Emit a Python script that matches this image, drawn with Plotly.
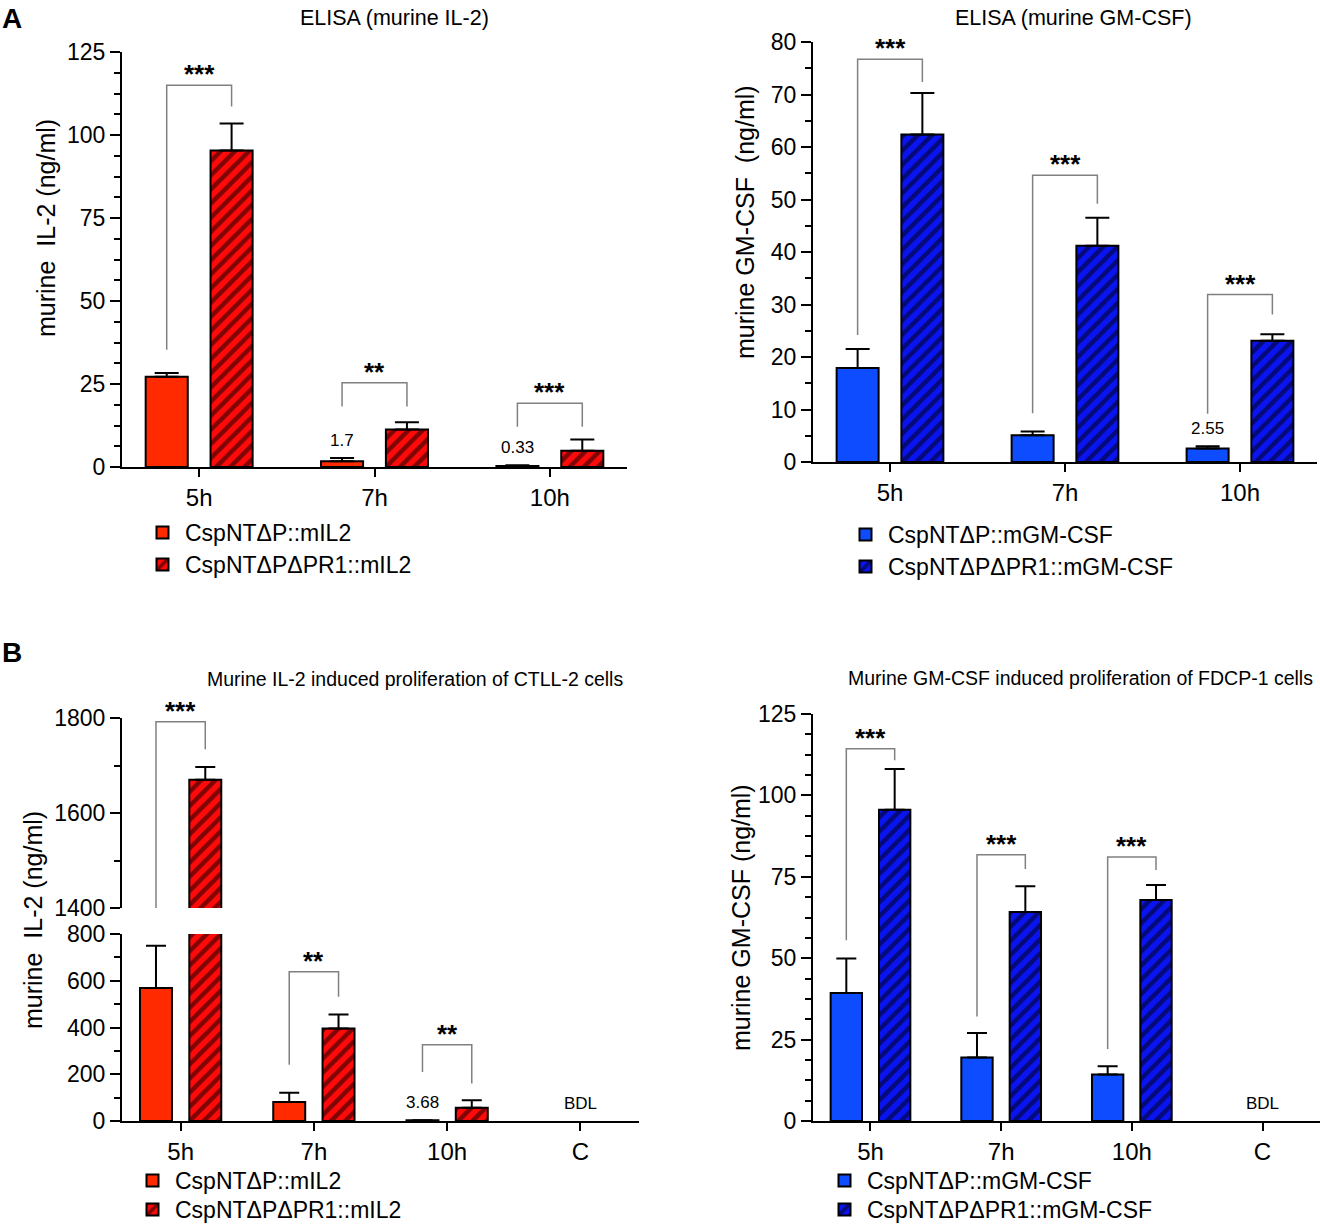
import plotly.graph_objects as go

FONT = "Liberation Sans, Arial, sans-serif"

times_a = ["5h", "7h", "10h"]
times_b = ["5h", "7h", "10h", "C"]

# A, ELISA murine IL-2 (ng/ml)
il2_elisa_p = [27.2, 1.7, 0.33]
il2_elisa_p_err = [1.1, 1.0, 0.2]
il2_elisa_pr1 = [95.3, 11.3, 4.9]
il2_elisa_pr1_err = [8.2, 2.2, 3.4]
il2_elisa_stars = ["***", "**", "***"]
il2_elisa_labels = ["", "1.7", "0.33"]
il2_elisa_br_top = [115.0, 25.4, 19.2]
il2_elisa_br_left = [35.3, 18.2, 12.1]
il2_elisa_br_right = [108.6, 18.2, 12.1]

# A, ELISA murine GM-CSF (ng/ml)
gm_elisa_p = [17.9, 5.1, 2.55]
gm_elisa_p_err = [3.6, 0.7, 0.45]
gm_elisa_pr1 = [62.4, 41.2, 23.1]
gm_elisa_pr1_err = [7.9, 5.3, 1.25]
gm_elisa_stars = ["***", "***", "***"]
gm_elisa_labels = ["", "", "2.55"]
gm_elisa_br_top = [76.7, 54.6, 31.9]
gm_elisa_br_left = [24.2, 9.3, 9.2]
gm_elisa_br_right = [72.4, 49.2, 28.1]

# B, IL-2 induced proliferation of CTLL-2 cells
il2_prolif_p = [569, 81, 3.68, None]
il2_prolif_p_err = [181, 40, 0, None]
il2_prolif_pr1 = [1670, 396, 57, None]
il2_prolif_pr1_err = [27, 60, 32, None]
il2_prolif_stars = ["***", "**", "**"]
il2_prolif_labels = ["", "", "3.68", "BDL"]
il2_prolif_br_top = [1792, 638, 326]
il2_prolif_br_left = [1400, 241, 210]
il2_prolif_br_right = [1734, 532, 160]

# B, GM-CSF induced proliferation of FDCP-1 cells
gm_prolif_p = [39.3, 19.5, 14.3, None]
gm_prolif_p_err = [10.6, 7.5, 2.5, None]
gm_prolif_pr1 = [95.6, 64.2, 67.9, None]
gm_prolif_pr1_err = [12.5, 7.9, 4.6, None]
gm_prolif_stars = ["***", "***", "***"]
gm_prolif_labels = ["", "", "", "BDL"]
gm_prolif_br_top = [114.3, 81.8, 81.1]
gm_prolif_br_left = [55.5, 32.1, 22.1]
gm_prolif_br_right = [110.8, 77.4, 77.1]

names_il2 = ["CspNTΔP::mIL2", "CspNTΔPΔPR1::mIL2"]
names_gm = ["CspNTΔP::mGM-CSF", "CspNTΔPΔPR1::mGM-CSF"]
reds = ["#FF2A00", "#FF0A0A"]
blues = ["#0D4DFF", "#0A14F0"]

W, H = 1320, 1228
OFF, BW = 0.185, 0.24
EDGE = dict(color="black", width=2)

fig = go.Figure()


def dx(a, b):
    return [a / W, b / W]


def py(y):
    return 1 - y / H


def dy(top, bottom):
    return [py(bottom), py(top)]


def add_bars(cats, a, a_err, b, b_err, names, colors, xa, ya, legends, show=True, cap=12):
    pos = list(range(len(cats)))
    err_a = dict(type="data", symmetric=False, array=a_err, arrayminus=[0] * len(a),
                 color="black", thickness=2, width=cap)
    err_b = dict(type="data", symmetric=False, array=b_err, arrayminus=[0] * len(b),
                 color="black", thickness=2, width=cap)
    fig.add_trace(go.Bar(
        x=[p - OFF for p in pos], y=a, width=BW, name=names[0],
        marker=dict(color=colors[0], line=EDGE), error_y=err_a,
        xaxis=xa, yaxis=ya, legend=legends[0], showlegend=show))
    fig.add_trace(go.Bar(
        x=[p + OFF for p in pos], y=b, width=BW, name=names[1],
        marker=dict(color=colors[1], line=EDGE,
                    pattern=dict(shape="/", fgcolor="black", bgcolor=colors[1],
                                 size=10, solidity=0.45)),
        error_y=err_b, xaxis=xa, yaxis=ya, legend=legends[1], showlegend=show))


def add_brackets(tops, lefts, rights, stars, xa, ya, ya_up=None, split=None):
    for i, (t, l, r, s) in enumerate(zip(tops, lefts, rights, stars)):
        yref = ya_up if (split is not None and t > split) else ya
        x0, x1 = i - OFF, i + OFF
        fig.add_shape(type="path", path=f"M{x0},{l} L{x0},{t} L{x1},{t} L{x1},{r}",
                      xref=xa, yref=yref, line=dict(color="#808080", width=1.5))
        fig.add_annotation(x=i, y=t, xref=xa, yref=yref, text=s, showarrow=False,
                           yanchor="bottom", yshift=-6,
                           font=dict(size=26, family=FONT, color="black", weight="bold"))


def add_labels(labels, vals, errs, xa, ya):
    for i, (lab, v, e) in enumerate(zip(labels, vals, errs)):
        if not lab:
            continue
        if v is None:
            x, y = i, 0
        else:
            x, y = i - OFF, v + e
        fig.add_annotation(x=x, y=y, xref=xa, yref=ya, text=lab, showarrow=False,
                           yanchor="bottom", yshift=6,
                           font=dict(size=17, family=FONT, color="black"))


# panel A left
add_bars(times_a, il2_elisa_p, il2_elisa_p_err, il2_elisa_pr1, il2_elisa_pr1_err,
         names_il2, reds, "x", "y", ("legend", "legend2"))
add_brackets(il2_elisa_br_top, il2_elisa_br_left, il2_elisa_br_right, il2_elisa_stars, "x", "y")
add_labels(il2_elisa_labels, il2_elisa_p, il2_elisa_p_err, "x", "y")

# panel A right
add_bars(times_a, gm_elisa_p, gm_elisa_p_err, gm_elisa_pr1, gm_elisa_pr1_err,
         names_gm, blues, "x2", "y2", ("legend3", "legend4"))
add_brackets(gm_elisa_br_top, gm_elisa_br_left, gm_elisa_br_right, gm_elisa_stars, "x2", "y2")
add_labels(gm_elisa_labels, gm_elisa_p, gm_elisa_p_err, "x2", "y2")

# panel B left (broken axis: lower y3, upper y4)
add_bars(times_b, il2_prolif_p, il2_prolif_p_err, il2_prolif_pr1, il2_prolif_pr1_err,
         names_il2, reds, "x3", "y3", ("legend5", "legend6"), cap=10)
add_bars(times_b, il2_prolif_p, il2_prolif_p_err, il2_prolif_pr1, il2_prolif_pr1_err,
         names_il2, reds, "x3", "y4", ("legend5", "legend6"), show=False, cap=10)
add_brackets(il2_prolif_br_top, il2_prolif_br_left, il2_prolif_br_right, il2_prolif_stars,
             "x3", "y3", ya_up="y4", split=800)
add_labels(il2_prolif_labels, il2_prolif_p, il2_prolif_p_err, "x3", "y3")

# panel B right
add_bars(times_b, gm_prolif_p, gm_prolif_p_err, gm_prolif_pr1, gm_prolif_pr1_err,
         names_gm, blues, "x4", "y5", ("legend7", "legend8"), cap=10)
add_brackets(gm_prolif_br_top, gm_prolif_br_left, gm_prolif_br_right, gm_prolif_stars, "x4", "y5")
add_labels(gm_prolif_labels, gm_prolif_p, gm_prolif_p_err, "x4", "y5")


def xax(domain, cats, anchor):
    return dict(domain=domain, anchor=anchor, range=[-0.44, len(cats) - 0.56],
                tickvals=list(range(len(cats))), ticktext=cats,
                showline=True, linecolor="black", linewidth=2, ticks="outside",
                ticklen=8, tickwidth=2, tickcolor="black", showgrid=False, zeroline=False,
                tickfont=dict(size=24, family=FONT, color="black"))


def yax(domain, rng, dtick, minor, anchor):
    return dict(domain=domain, anchor=anchor, range=rng, dtick=dtick, tick0=0,
                showline=True, linecolor="black", linewidth=2, ticks="outside",
                ticklen=10, tickwidth=2, tickcolor="black", showgrid=False, zeroline=False,
                tickfont=dict(size=23, family=FONT, color="black"),
                minor=dict(dtick=minor, tick0=0, ticks="outside", ticklen=6, tickwidth=2,
                           tickcolor="black", showgrid=False))


def legend_box(x_px, y_center):
    # one entry per legend; the entry centre sits ~22px below the box top
    return dict(x=x_px / W, y=py(y_center - 22), xanchor="left", yanchor="top",
                bgcolor="rgba(0,0,0,0)", itemwidth=35,
                font=dict(size=23, family=FONT, color="black"))


fig.update_layout(
    width=W, height=H, margin=dict(l=0, r=0, t=0, b=0, autoexpand=False),
    paper_bgcolor="white", plot_bgcolor="white", barmode="overlay",
    font=dict(family=FONT, color="black"),
    xaxis=xax(dx(122, 627), times_a, "y"),
    yaxis=yax(dy(52, 467), [0, 125], 25, 6.25, "x"),
    xaxis2=xax(dx(813, 1317), times_a, "y2"),
    yaxis2=yax(dy(42, 462), [0, 80], 10, 5, "x2"),
    xaxis3=xax(dx(122, 639), times_b, "y3"),
    yaxis3=yax(dy(934, 1121), [0, 800], 200, 100, "x3"),
    yaxis4=yax(dy(718, 908), [1400, 1800], 200, 100, "x3"),
    xaxis4=xax(dx(813, 1320), times_b, "y5"),
    yaxis5=yax(dy(714, 1121), [0, 125], 25, 6.25, "x4"),
    legend=legend_box(140, 533),
    legend2=legend_box(140, 565),
    legend3=legend_box(843, 535),
    legend4=legend_box(843, 567),
    legend5=legend_box(130, 1181),
    legend6=legend_box(130, 1210),
    legend7=legend_box(822, 1181),
    legend8=legend_box(822, 1210),
)

texts = [
    ("A", 0, 18, "left", 28, "bold", 0),
    ("B", 0, 652, "left", 28, "bold", 0),
    ("ELISA (murine IL-2)", 491, 18, "right", 21.5, "normal", 0),
    ("ELISA (murine GM-CSF)", 1194, 18, "right", 21.5, "normal", 0),
    ("Murine IL-2 induced proliferation of CTLL-2 cells", 625, 679, "right", 19.5, "normal", 0),
    ("Murine GM-CSF induced proliferation of FDCP-1 cells", 1315, 678, "right", 19.5, "normal", 0),
    ("murine\u00a0 IL-2 (ng/ml)", 46, 228, "center", 25, "normal", -90),
    ("murine GM-CSF\u00a0 (ng/ml)", 745, 222, "center", 25, "normal", -90),
    ("murine\u00a0 IL-2 (ng/ml)", 33, 920, "center", 25, "normal", -90),
    ("murine GM-CSF (ng/ml)", 741, 918, "center", 25, "normal", -90),
]
for txt, xp, yp, anchor, size, weight, angle in texts:
    fig.add_annotation(x=xp / W, y=py(yp), xref="paper", yref="paper", text=txt,
                       showarrow=False, xanchor=anchor, yanchor="middle", textangle=angle,
                       font=dict(size=size, family=FONT, color="black", weight=weight))

fig.write_html("out.html", config={"displayModeBar": False},
               post_script="document.body.style.margin='0';document.body.style.overflow='hidden';")
